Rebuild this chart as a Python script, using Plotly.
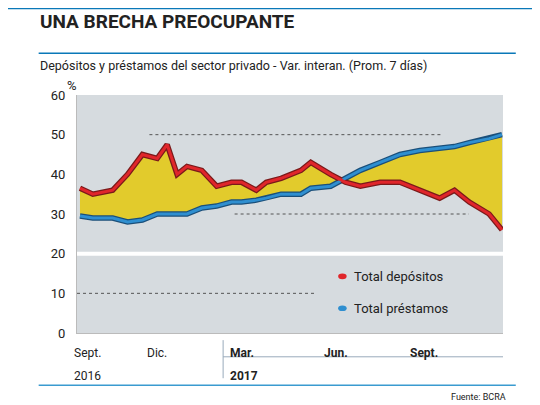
import plotly.graph_objects as go

dates = ["2016-09-06","2016-09-19","2016-10-09","2016-10-24","2016-11-08","2016-11-23","2016-12-03","2016-12-13","2016-12-23",
         "2017-01-07","2017-01-22","2017-02-06","2017-02-16","2017-03-03","2017-03-13","2017-03-28","2017-04-17","2017-04-27",
         "2017-05-17","2017-06-01","2017-06-16","2017-07-06","2017-07-26","2017-08-15","2017-09-04","2017-09-19","2017-10-04",
         "2017-10-24","2017-11-06"]
depositos = [36.5,35,36,40,45,44,47.5,40,42,41,37,38,38,36,38,39,41,43,40,38,37,38,38,36,34,36,33,30,26]
prestamos = [29.5,29,29,28,28.5,30,30,30,30,31.5,32,33,33,33.5,34,35,35,36.5,37,39,41,43,45,46,46.5,47,48,49,50]

fig = go.Figure()
fig.add_trace(go.Scatter(x=dates, y=prestamos, mode="lines", line=dict(color="#1a4f7a", width=5.5), hoverinfo="skip"))
fig.add_trace(go.Scatter(x=dates, y=depositos, mode="lines", line=dict(color="#7a1a1a", width=5.5),
                         fill="tonexty", fillcolor="#e2cb2c", hoverinfo="skip"))
fig.add_trace(go.Scatter(x=dates, y=prestamos, mode="lines", line=dict(color="#2f8fd0", width=3)))
fig.add_trace(go.Scatter(x=dates, y=depositos, mode="lines", line=dict(color="#e0262b", width=3)))

shapes = [
    dict(type="rect", xref="paper", yref="paper", x0=-0.2, x1=1.1, y0=1.36, y1=1.42, fillcolor="#0a78b8", line_width=0, layer="below"),
    dict(type="line", xref="paper", yref="paper", x0=-0.09, x1=1.03, y0=1.175, y1=1.175, line=dict(color="#0a78b8", width=1.5)),
    dict(type="line", xref="paper", yref="paper", x0=-0.09, x1=1.03, y0=-0.22, y1=-0.22, line=dict(color="#3a9bd0", width=1.5)),
    dict(type="line", xref="paper", yref="y", x0=0, x1=1, y0=20, y1=20, line=dict(color="white", width=4)),
    dict(type="line", xref="paper", yref="y", x0=0.17, x1=0.855, y0=50, y1=50, line=dict(color="#555", width=1, dash="dot")),
    dict(type="line", xref="paper", yref="y", x0=0.37, x1=0.92, y0=30, y1=30, line=dict(color="#555", width=1, dash="dot")),
    dict(type="line", xref="paper", yref="y", x0=0.0, x1=0.56, y0=10, y1=10, line=dict(color="#555", width=1, dash="dot")),
    dict(type="line", xref="paper", yref="paper", x0=0.343, x1=0.343, y0=-0.03, y1=-0.19, line=dict(color="#9ab", width=1)),
    dict(type="line", xref="paper", yref="paper", x0=0.343, x1=1.0, y0=-0.10, y1=-0.10, line=dict(color="#9ab", width=1)),
    dict(type="circle", xref="paper", yref="paper", x0=0.613, x1=0.633, y0=0.226, y1=0.250, fillcolor="#e0262b", line_width=0),
    dict(type="circle", xref="paper", yref="paper", x0=0.613, x1=0.633, y0=0.092, y1=0.116, fillcolor="#2f8fd0", line_width=0),
]

def px(x):
    return (x - 77) / 426

ann = [
    dict(text="<b>UNA BRECHA PREOCUPANTE</b>", x=px(38), y=1.31, font=dict(size=19, color="#222")),
    dict(text="Depósitos y préstamos del sector privado - Var. interan. (Prom. 7 días)", x=px(38), y=1.125, font=dict(size=12.5, color="#222")),
    dict(text="%", x=px(65), y=1.04, font=dict(size=13, color="#222")),
    dict(text="Total depósitos", x=px(352), y=0.238, font=dict(size=13, color="#222")),
    dict(text="Total préstamos", x=px(352), y=0.104, font=dict(size=13, color="#222")),
    dict(text="Sept.", x=px(72), y=-0.085, font=dict(size=12, color="#222")),
    dict(text="2016", x=px(72), y=-0.18, font=dict(size=12, color="#222")),
    dict(text="Dic.", x=px(145), y=-0.085, font=dict(size=12, color="#222")),
    dict(text="<b>Mar.</b>", x=px(228), y=-0.085, font=dict(size=12, color="#222")),
    dict(text="<b>2017</b>", x=px(228), y=-0.18, font=dict(size=12, color="#222")),
    dict(text="<b>Jun.</b>", x=px(322), y=-0.085, font=dict(size=12, color="#222")),
    dict(text="<b>Sept.</b>", x=px(408), y=-0.085, font=dict(size=12, color="#222")),
]
for a in ann:
    a.update(xref="paper", yref="paper", xanchor="left", yanchor="middle", showarrow=False)
ann.append(dict(text="Fuente: BCRA", xref="paper", yref="paper", x=px(508), y=-0.27, xanchor="right", yanchor="middle",
                showarrow=False, font=dict(size=9, color="#222")))

fig.update_layout(
    width=540, height=405, margin=dict(l=69, r=45, t=87, b=80),
    paper_bgcolor="white", plot_bgcolor="#d6dbdf", showlegend=False,
    font=dict(family="Roboto, Liberation Sans, sans-serif"),
    xaxis=dict(range=["2016-09-03", "2017-11-07"], showticklabels=False, showgrid=False, zeroline=False,
               showline=True, linecolor="#bbb", ticks=""),
    yaxis=dict(range=[0, 60], dtick=10, showgrid=False, zeroline=False, showline=True, linecolor="#bbb",
               tickfont=dict(size=13, color="#222"), ticks="", ticklabelstandoff=8),
    shapes=shapes, annotations=ann,
)
fig.write_html("out.html")
